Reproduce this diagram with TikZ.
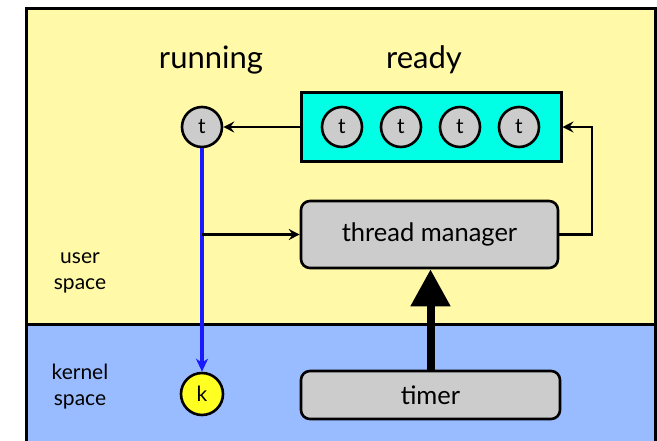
\documentclass[tikz,border=0pt]{standalone}
\usepackage{fontspec}
\setmainfont{Lato}
\usetikzlibrary{arrows.meta}
\definecolor{userbg}{HTML}{FFF9A8}
\definecolor{kernelbg}{HTML}{99BBFF}
\definecolor{queuebg}{HTML}{00FFE4}
\definecolor{threadgray}{HTML}{CCCCCC}
\definecolor{kyellow}{HTML}{FFFF22}
\definecolor{runblue}{HTML}{1A1AFF}

\begin{document}
\begin{tikzpicture}[x=1pt,y=-1pt,
	thread/.style={circle,draw,line width=2.6pt,fill=threadgray,minimum size=40pt,inner sep=0pt,font=\fontsize{21}{21}\selectfont},
	kthread/.style={thread,fill=kyellow,minimum size=42pt},
	mgrbox/.style={draw,line width=2.6pt,fill=threadgray,rounded corners=9pt,font=\fontsize{25.5}{25.5}\selectfont},
	title/.style={font=\fontsize{31}{31}\selectfont},
	side/.style={align=center,font=\fontsize{21}{26}\selectfont},
	link/.style={line width=2.2pt,-{Stealth[length=11pt,width=11pt,inset=4pt]}}]
\useasboundingbox (0,0) rectangle (657,440);
\fill[userbg] (26,8) rectangle (655,324);
\fill[kernelbg] (26,324) rectangle (655,445);
\draw[line width=3pt] (26,445) -- (26,8) -- (655,8) -- (655,445);
\draw[line width=3pt] (26,324) -- (655,324);
% labels
\node[title] (running) at (211,60) {running};
\node[title] (readylbl) at (424,60) {ready};
\node[side] (user) at (80,273) {user\\space};
\node[side] (kernel) at (80,387) {kernel\\space};
% threads
\node[draw,line width=3pt,fill=queuebg,minimum width=260pt,minimum height=69pt] (ready) at (431,127) {};
\foreach \n/\x in {1/342, 2/401, 3/460, 4/519} {
	\node[thread] (q\n) at (\x,127) {t};
	};
\node[thread] (run) at (202,127) {t};
\node[kthread] (k) at (202,394) {k};
\node[mgrbox,minimum width=257pt,minimum height=67pt] (tm) at (429.5,234.5) {thread manager};
\node[mgrbox,minimum width=259pt,minimum height=48pt] (timer) at (430.5,395) {timer};
% connectors
\draw[link] (ready.west) -- (run.east);
\draw[runblue,line width=3.5pt,-{Stealth[length=13pt,width=12pt,inset=4pt]}] (run.south) -- (k.north);
\draw[link] (run |- tm.west) -- (tm.west);
\draw[link] (tm.east) -- ++(33,0) |- (ready.east);
\draw[line width=8pt,-{Triangle[length=37pt,width=38pt]}] (timer.north) -- (timer.north |- tm.south);
\end{tikzpicture}
\end{document}
